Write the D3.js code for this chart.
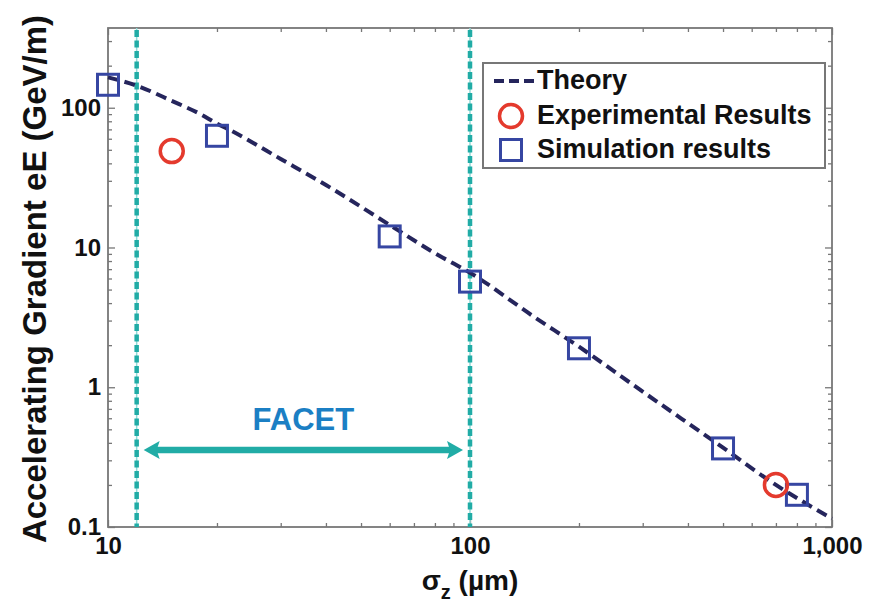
<!DOCTYPE html>
<html><head><meta charset="utf-8">
<script src="https://cdn.jsdelivr.net/npm/d3@7"></script>
<style>
body{margin:0;background:#fff}
text{font-family:"Liberation Sans",Arial,Helvetica,sans-serif;font-weight:bold}
</style>
</head><body><svg id="c" width="870" height="608"></svg>
<script>
// ---- data ----
const theoryX = [10, 12, 15, 18, 20, 22, 30, 40, 60, 80, 100, 150, 200, 300, 500, 700, 1000];
const theoryY = [165, 144, 112, 90, 77, 68, 43, 28, 14.5, 9.1, 6.6, 3.2, 1.95, 0.93, 0.37, 0.2, 0.115];
const expX = [15, 700];
const expY = [49, 0.2];
const simX = [10, 20, 60, 100, 200, 500, 800];
const simY = [146, 63, 12, 5.7, 1.9, 0.365, 0.17];
const xTickVals = [10, 100, 1000];
const xTickLabels = ["10", "100", "1,000"];
const yTickVals = [0.1, 1, 10, 100];
const yTickLabels = ["0.1", "1", "10", "100"];
const facetRange = [12, 100];
const facetArrowY = 0.355;
const facetLabel = "FACET";
const legendLabels = ["Theory", "Experimental Results", "Simulation results"];
const xDomain = [10, 1000];
const yDomain = [0.1, 372];

// ---- layout ----
const L = 108, R = 832, T = 28, B = 527;
const svg = d3.select("#c");
svg.append("rect").attr("width", 870).attr("height", 608).attr("fill", "#fff");

const x = d3.scaleLog().domain(xDomain).range([L, R]);
const y = d3.scaleLog().domain(yDomain).range([B, T]);

const frameCol = "#777";
const navy = "#25255c", blue = "#3646a2", red = "#e43a2d", teal = "#21aca6";

// minor ticks
const xMinor = x.ticks().filter(v => !xTickVals.includes(v));
const yMinor = y.ticks().filter(v => !yTickVals.some(t => Math.abs(t - v) < 1e-9));

function styleAxis(g) {
  g.select(".domain").remove();
  g.selectAll("line").attr("stroke", frameCol).attr("stroke-width", 1.3);
}
// bottom
svg.append("g").attr("transform", `translate(0,${B})`)
  .call(d3.axisBottom(x).tickValues(xMinor).tickSize(-4).tickFormat(""))
  .call(styleAxis);
svg.append("g").attr("transform", `translate(0,${B})`)
  .call(d3.axisBottom(x).tickValues(xTickVals).tickSize(-7).tickPadding(10)
    .tickFormat((d, i) => xTickLabels[i]))
  .call(styleAxis)
  .call(g => g.selectAll("text").attr("font-size", 24).attr("fill", "#111")
    .attr("font-family", "Liberation Sans, Arial, sans-serif").attr("font-weight", "bold"));
// top
svg.append("g").attr("transform", `translate(0,${T})`)
  .call(d3.axisTop(x).tickValues(xMinor).tickSize(-4).tickFormat("")).call(styleAxis);
svg.append("g").attr("transform", `translate(0,${T})`)
  .call(d3.axisTop(x).tickValues(xTickVals).tickSize(-7).tickFormat("")).call(styleAxis);
// left
svg.append("g").attr("transform", `translate(${L},0)`)
  .call(d3.axisLeft(y).tickValues(yMinor).tickSize(-4).tickFormat("")).call(styleAxis);
svg.append("g").attr("transform", `translate(${L},0)`)
  .call(d3.axisLeft(y).tickValues(yTickVals).tickSize(-7).tickPadding(7)
    .tickFormat((d, i) => yTickLabels[i]))
  .call(styleAxis)
  .call(g => g.selectAll("text").attr("font-size", 24).attr("fill", "#111")
    .attr("font-family", "Liberation Sans, Arial, sans-serif").attr("font-weight", "bold"));
// right
svg.append("g").attr("transform", `translate(${R},0)`)
  .call(d3.axisRight(y).tickValues(yMinor).tickSize(-4).tickFormat("")).call(styleAxis);
svg.append("g").attr("transform", `translate(${R},0)`)
  .call(d3.axisRight(y).tickValues(yTickVals).tickSize(-7).tickFormat("")).call(styleAxis);

// frame
svg.append("rect").attr("x", L).attr("y", T).attr("width", R - L).attr("height", B - T)
  .attr("fill", "none").attr("stroke", frameCol).attr("stroke-width", 1.8);

// FACET vertical lines (dash-dot)
facetRange.forEach(v => {
  svg.append("line").attr("x1", x(v)).attr("x2", x(v)).attr("y1", T).attr("y2", B)
    .attr("stroke", "#8fdad6").attr("stroke-width", 1.5);
  svg.append("line").attr("x1", x(v)).attr("x2", x(v)).attr("y1", T + 2).attr("y2", B)
    .attr("stroke", teal).attr("stroke-width", 4.5).attr("stroke-dasharray", "7,3.5");
});

// FACET arrow
const ay = y(facetArrowY);
const ax1 = x(facetRange[0]) + 7, ax2 = x(facetRange[1]) - 7;
svg.append("line").attr("x1", ax1 + 10).attr("x2", ax2 - 10).attr("y1", ay).attr("y2", ay)
  .attr("stroke", teal).attr("stroke-width", 6.5);
svg.append("path").attr("d", `M${ax1},${ay} L${ax1 + 16},${ay - 9} L${ax1 + 13},${ay} L${ax1 + 16},${ay + 9} Z`).attr("fill", teal);
svg.append("path").attr("d", `M${ax2},${ay} L${ax2 - 16},${ay - 9} L${ax2 - 13},${ay} L${ax2 - 16},${ay + 9} Z`).attr("fill", teal);
svg.append("text").attr("x", x(Math.sqrt(facetRange[0] * facetRange[1])))
  .attr("y", ay - 28).attr("text-anchor", "middle").attr("dominant-baseline", "middle")
  .attr("font-size", 31).attr("fill", "#1b7fc4").text(facetLabel);

// theory
const theory = theoryX.map((v, i) => [v, theoryY[i]]);
svg.append("path").datum(theory)
  .attr("d", d3.line().x(d => x(d[0])).y(d => y(d[1])).curve(d3.curveMonotoneX))
  .attr("fill", "none").attr("stroke", navy).attr("stroke-width", 4)
  .attr("stroke-dasharray", "11,6");

// simulation squares
const sq = 21;
svg.append("g").selectAll("rect").data(simX.map((v, i) => [v, simY[i]])).join("rect")
  .attr("x", d => x(d[0]) - sq / 2).attr("y", d => y(d[1]) - sq / 2)
  .attr("width", sq).attr("height", sq).attr("fill", "none")
  .attr("stroke", blue).attr("stroke-width", 3);

// experimental circles
svg.append("g").selectAll("circle").data(expX.map((v, i) => [v, expY[i]])).join("circle")
  .attr("cx", d => x(d[0])).attr("cy", d => y(d[1])).attr("r", 11.5)
  .attr("fill", "none").attr("stroke", red).attr("stroke-width", 3.5);

// legend
const lg = svg.append("g");
lg.append("rect").attr("x", 483).attr("y", 63).attr("width", 342).attr("height", 105)
  .attr("fill", "#fff").attr("stroke", frameCol).attr("stroke-width", 2);
const rowY = [81, 116, 150];
lg.append("line").attr("x1", 494).attr("x2", 536).attr("y1", rowY[0]).attr("y2", rowY[0])
  .attr("stroke", navy).attr("stroke-width", 4).attr("stroke-dasharray", "10,5");
lg.append("circle").attr("cx", 511).attr("cy", rowY[1]).attr("r", 11.5)
  .attr("fill", "none").attr("stroke", red).attr("stroke-width", 3.5);
lg.append("rect").attr("x", 511 - sq / 2).attr("y", rowY[2] - sq / 2).attr("width", sq).attr("height", sq)
  .attr("fill", "none").attr("stroke", blue).attr("stroke-width", 3);
legendLabels.forEach((t, i) => {
  lg.append("text").attr("x", 537).attr("y", rowY[i] + 1).attr("dominant-baseline", "middle")
    .attr("font-size", 27).attr("fill", "#111").text(t);
});

// axis titles
svg.append("text").attr("transform", `translate(46,279) rotate(-90)`)
  .attr("text-anchor", "middle").attr("font-size", 33).attr("fill", "#111")
  .text("Accelerating Gradient eE (GeV/m)");
const xt = svg.append("text").attr("x", 470).attr("y", 590).attr("text-anchor", "middle")
  .attr("font-size", 28).attr("fill", "#111");
xt.append("tspan").text("σ");
xt.append("tspan").attr("font-size", 20).attr("dy", 9).text("z");
xt.append("tspan").attr("dy", -9).text(" (µm)");
</script>
</body></html>
